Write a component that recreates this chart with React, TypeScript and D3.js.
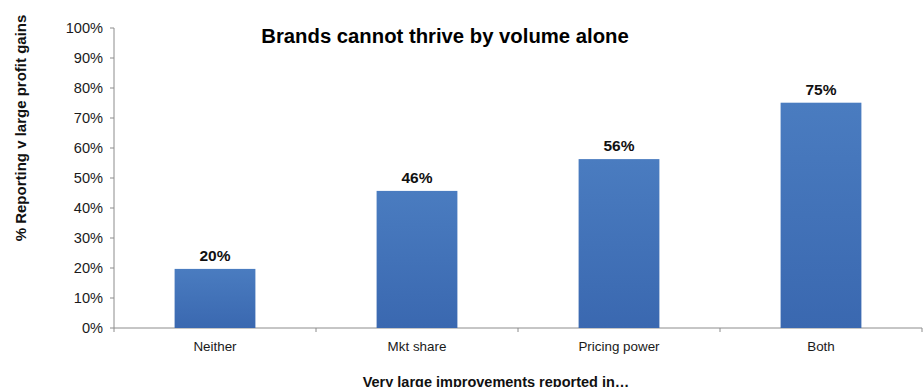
import React from "react";
import * as d3 from "d3";

const categories = ["Neither", "Mkt share", "Pricing power", "Both"];
const values = [19.7, 45.7, 56.3, 75.1];
const labels = ["20%", "46%", "56%", "75%"];
const yTicks = [0, 10, 20, 30, 40, 50, 60, 70, 80, 90, 100];

const W = 923;
const H = 387;
const left = 114;
const right = 922;
const top = 28;
const bottom = 328;
const FONT = "'Liberation Sans', Arial, sans-serif";

export default function App() {
  const x = d3.scaleBand<string>().domain(categories).range([left, right]).paddingInner(0.6).paddingOuter(0.3);
  const y = d3.scaleLinear().domain([0, 100]).range([bottom, top]);
  const step = (right - left) / categories.length;
  return (
    <svg width={W} height={H} style={{ position: "absolute", left: 0, top: 0, background: "#fff" }} fontFamily={FONT}>
      <defs>
        <linearGradient id="barGrad" x1="0" y1="0" x2="0" y2="1">
          <stop offset="0%" stopColor="#4a7cc0" />
          <stop offset="100%" stopColor="#3a68b0" />
        </linearGradient>
      </defs>
      {/* y axis */}
      <line x1={left} x2={left} y1={top} y2={bottom} stroke="#8c8c8c" strokeWidth={1} />
      {yTicks.map((t) => (
        <g key={t}>
          <line x1={left - 4} x2={left} y1={y(t)} y2={y(t)} stroke="#8c8c8c" />
          <text x={left - 11} y={y(t)} dy="0.35em" textAnchor="end" fontSize={14.6} fill="#1a1a1a">
            {t}%
          </text>
        </g>
      ))}
      {/* x axis */}
      <line x1={left} x2={right} y1={bottom} y2={bottom} stroke="#8c8c8c" strokeWidth={1} />
      {d3.range(categories.length + 1).map((i) => (
        <line key={i} x1={left + i * step} x2={left + i * step} y1={bottom} y2={bottom + 4} stroke="#8c8c8c" />
      ))}
      {categories.map((c, i) => (
        <g key={c}>
          <rect x={x(c)} y={y(values[i])} width={x.bandwidth()} height={bottom - y(values[i])} fill="url(#barGrad)" />
          <text x={x(c)! + x.bandwidth() / 2} y={y(values[i]) - 8} textAnchor="middle" fontSize={15.5} fontWeight="bold" fill="#111">
            {labels[i]}
          </text>
          <text x={x(c)! + x.bandwidth() / 2} y={bottom + 23} textAnchor="middle" fontSize={13.4} fill="#1a1a1a">
            {c}
          </text>
        </g>
      ))}
      <text x={445} y={43} textAnchor="middle" fontSize={20.3} fontWeight="bold" fill="#000">
        Brands cannot thrive by volume alone
      </text>
      <text x={496} y={387} textAnchor="middle" fontSize={14.5} fontWeight="bold" fill="#111">
        Very large improvements reported in…
      </text>
      <text transform="translate(26,128) rotate(-90)" textAnchor="middle" fontSize={15} fontWeight="bold" fill="#111">
        % Reporting v large profit gains
      </text>
    </svg>
  );
}
